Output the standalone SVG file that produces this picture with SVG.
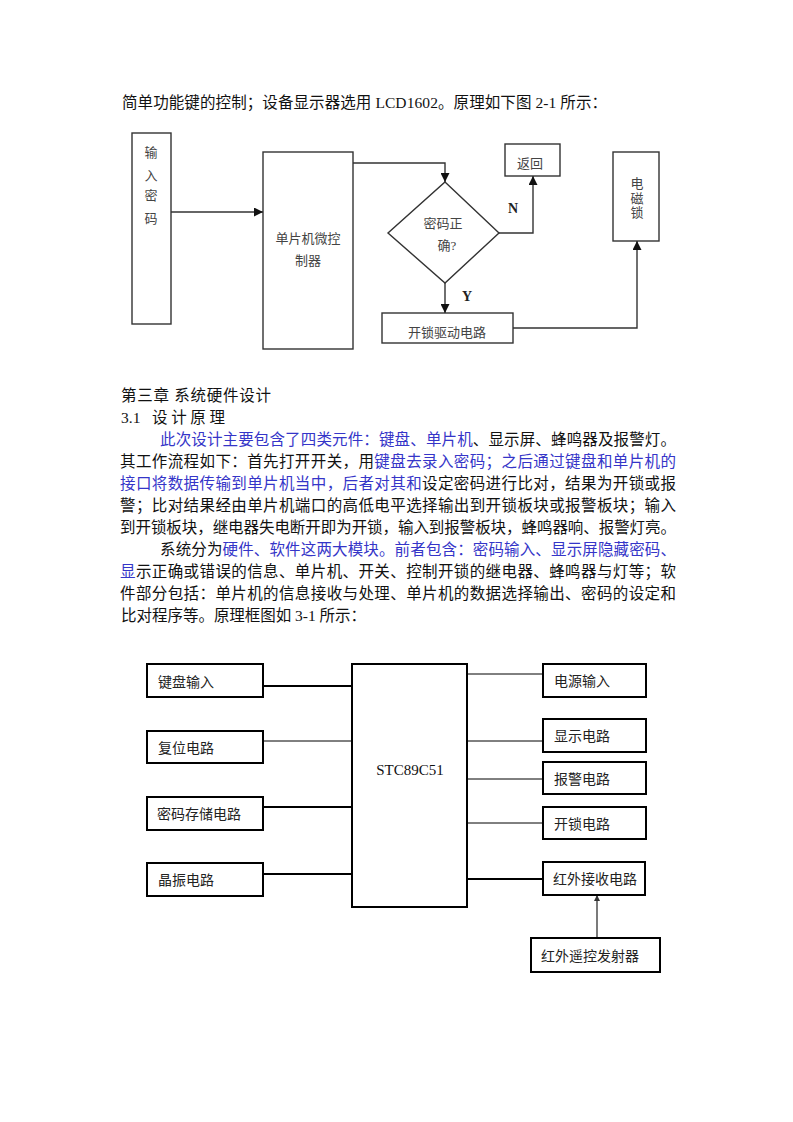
<svg xmlns="http://www.w3.org/2000/svg" width="793" height="1122" viewBox="0 0 793 1122">
<defs>
<style>
.t{font-family:"Liberation Serif","Noto Sans CJK SC",serif;font-size:15.5px;fill:#111}
.b{fill:#3535c8}
.d{font-family:"Liberation Serif","Noto Sans CJK SC",serif;font-size:13px;fill:#444}
.d2{font-family:"Liberation Serif","Noto Sans CJK SC",serif;font-size:14px;fill:#222}
.box1{fill:#fff;stroke:#333;stroke-width:1.4}
.box2{fill:#fff;stroke:#000;stroke-width:2}
.ln1{fill:none;stroke:#333;stroke-width:1.4}
.thin{fill:none;stroke:#000;stroke-width:1}
.thick{fill:none;stroke:#000;stroke-width:2.2}
.lbl{font-family:"Liberation Serif",serif;font-size:14px;font-weight:bold;fill:#222}
</style>
<marker id="ah" markerWidth="9" markerHeight="9" refX="9" refY="4.5" orient="auto" markerUnits="userSpaceOnUse"><path d="M0,0 L9,4.5 L0,9 Z" fill="#111"/></marker>
<marker id="ahs" markerWidth="6" markerHeight="6" refX="6" refY="3" orient="auto" markerUnits="userSpaceOnUse"><path d="M0,0 L6,3 L0,6 Z" fill="#333"/></marker>
</defs>
<rect width="793" height="1122" fill="#fff"/>

<g id="text-top">
<text class="t" x="122" y="108" textLength="485" lengthAdjust="spacing">简单功能键的控制；设备显示器选用 LCD1602。原理如下图 2-1 所示：</text>
</g>

<g id="diagram1-nodes">
<g id="n-input"><rect class="box1" x="132" y="133" width="39" height="191"/>
<text class="d" x="151" y="157" text-anchor="middle">输</text>
<text class="d" x="151" y="180" text-anchor="middle">入</text>
<text class="d" x="151" y="200" text-anchor="middle">密</text>
<text class="d" x="151" y="223" text-anchor="middle">码</text></g>
<g id="n-mcu"><rect class="box1" x="263" y="152" width="90" height="197"/>
<text class="d" x="308" y="243" text-anchor="middle">单片机微控</text>
<text class="d" x="308" y="265" text-anchor="middle">制器</text></g>
<g id="n-check"><polygon class="box1" points="445,182 499,233 445,283 388,233"/>
<text class="d" x="443" y="228" text-anchor="middle">密码正</text>
<text class="d" x="447" y="250" text-anchor="middle">确?</text></g>
<g id="n-return"><rect class="box1" x="505" y="144" width="55" height="32"/>
<text class="d" x="530" y="168" text-anchor="middle" font-size="12">返回</text></g>
<g id="n-unlock"><rect class="box1" x="382" y="313" width="131" height="30"/>
<text class="d" x="447" y="337" text-anchor="middle">开锁驱动电路</text></g>
<g id="n-lock"><rect class="box1" x="613" y="152" width="46" height="89"/>
<text class="d" x="637" y="188" text-anchor="middle" font-size="12">电</text>
<text class="d" x="637" y="203" text-anchor="middle" font-size="12">磁</text>
<text class="d" x="637" y="217" text-anchor="middle" font-size="12">锁</text></g>
</g>

<g id="diagram1-connectors">
<path class="ln1" d="M171,212 H263" marker-end="url(#ah)"/>
<path class="ln1" d="M353,163 H445 V182" marker-end="url(#ah)"/>
<path class="ln1" d="M499,233 H533 V176" marker-end="url(#ah)"/>
<path class="ln1" d="M445,283 V313" marker-end="url(#ah)"/>
<path class="ln1" d="M513,328 H637 V241" marker-end="url(#ah)"/>
<text class="lbl" x="513" y="213" text-anchor="middle">N</text>
<text class="lbl" x="467" y="301" text-anchor="middle">Y</text>
</g>

<g id="text-body">
<text class="t" x="121" y="401" textLength="150" lengthAdjust="spacing">第三章 系统硬件设计</text>
<text class="t" x="121" y="423">3.1</text>
<text class="t" x="152" y="423" textLength="73" lengthAdjust="spacing">设计原理</text>
<text class="t" x="160" y="445" textLength="516" lengthAdjust="spacing"><tspan class="b">此次设计主要包含了四类元件：键盘、单片机</tspan>、显示屏、蜂鸣器及报警灯。</text>
<text class="t" x="120" y="467" textLength="556" lengthAdjust="spacing">其工作流程如下：首先打开开关，用<tspan class="b">键盘去录入密码；之后通过键盘和单片机的</tspan></text>
<text class="t" x="120" y="489" textLength="556" lengthAdjust="spacing"><tspan class="b">接口将数据传输到单片机当中，后者对其和</tspan>设定密码进行比对，结果为开锁或报</text>
<text class="t" x="120" y="511" textLength="556" lengthAdjust="spacing">警；比对结果经由单片机端口的高低电平选择输出到开锁板块或报警板块；输入</text>
<text class="t" x="120" y="533" textLength="556" lengthAdjust="spacing">到开锁板块，继电器失电断开即为开锁，输入到报警板块，蜂鸣器响、报警灯亮。</text>
<text class="t" x="160" y="555" textLength="516" lengthAdjust="spacing">系统分为<tspan class="b">硬件、软件这两大模块。前者包含：密码输入、显示屏隐藏密码、</tspan></text>
<text class="t" x="120" y="577" textLength="556" lengthAdjust="spacing"><tspan class="b">显</tspan>示正确或错误的信息、单片机、开关、控制开锁的继电器、蜂鸣器与灯等；软</text>
<text class="t" x="120" y="599" textLength="556" lengthAdjust="spacing">件部分包括：单片机的信息接收与处理、单片机的数据选择输出、密码的设定和</text>
<text class="t" x="121" y="621" textLength="245" lengthAdjust="spacing">比对程序等。原理框图如 3-1 所示：</text>
</g>

<g id="diagram2-connectors">
<path class="thick" d="M263,686 H352"/>
<path class="thin" d="M263,741 H352"/>
<path class="thick" d="M263,807 H352"/>
<path class="thick" d="M263,874 H352"/>
<path class="thin" d="M467,674 H543"/>
<path class="thin" d="M467,741 H543"/>
<path class="thin" d="M467,779 H543"/>
<path class="thin" d="M467,823 H543"/>
<path class="thick" d="M467,879 H543"/>
<path fill="none" stroke="#333" stroke-width="1.3" d="M597,938 V895" marker-end="url(#ahs)"/>
</g>

<g id="diagram2-nodes">
<g id="n-keyboard"><rect class="box2" x="147" y="664" width="116" height="33"/><text class="d2" x="158" y="687">键盘输入</text></g>
<g id="n-reset"><rect class="box2" x="147" y="731" width="116" height="32"/><text class="d2" x="158" y="753">复位电路</text></g>
<g id="n-store"><rect class="box2" x="147" y="797" width="116" height="33"/><text class="d2" x="157" y="819">密码存储电路</text></g>
<g id="n-osc"><rect class="box2" x="147" y="863" width="116" height="33"/><text class="d2" x="158" y="885">晶振电路</text></g>
<g id="n-stc"><rect class="box2" x="352" y="664" width="115" height="243"/><text x="410" y="775" text-anchor="middle" font-family="Liberation Serif,serif" font-size="15" fill="#111">STC89C51</text></g>
<g id="n-power"><rect class="box2" x="543" y="664" width="103" height="33"/><text class="d2" x="554" y="686">电源输入</text></g>
<g id="n-display"><rect class="box2" x="543" y="719" width="103" height="33"/><text class="d2" x="554" y="741">显示电路</text></g>
<g id="n-alarm"><rect class="box2" x="543" y="762" width="103" height="32"/><text class="d2" x="554" y="784">报警电路</text></g>
<g id="n-unlock2"><rect class="box2" x="543" y="807" width="103" height="32"/><text class="d2" x="554" y="829">开锁电路</text></g>
<g id="n-irrx"><rect class="box2" x="543" y="862" width="102" height="33"/><text class="d2" x="553" y="884">红外接收电路</text></g>
<g id="n-irtx"><rect class="box2" x="531" y="938" width="129" height="34"/><text class="d2" x="541" y="961">红外遥控发射器</text></g>
</g>
</svg>
